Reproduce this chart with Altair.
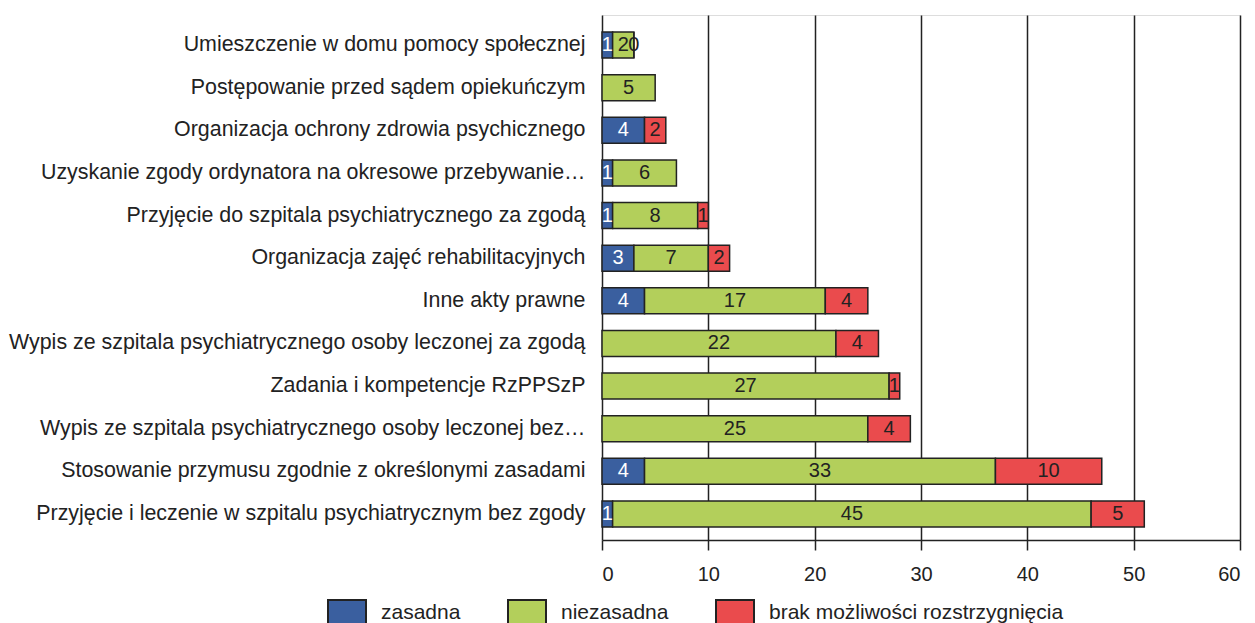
import altair as alt
import pandas as pd

categories = [
    "Umieszczenie w domu pomocy społecznej",
    "Postępowanie przed sądem opiekuńczym",
    "Organizacja ochrony zdrowia psychicznego",
    "Uzyskanie zgody ordynatora na okresowe przebywanie…",
    "Przyjęcie do szpitala psychiatrycznego za zgodą",
    "Organizacja zajęć rehabilitacyjnych",
    "Inne akty prawne",
    "Wypis ze szpitala psychiatrycznego osoby leczonej za zgodą",
    "Zadania i kompetencje RzPPSzP",
    "Wypis ze szpitala psychiatrycznego osoby leczonej bez…",
    "Stosowanie przymusu zgodnie z określonymi zasadami",
    "Przyjęcie i leczenie w szpitalu psychiatrycznym bez zgody",
]
zasadna = [1, None, 4, 1, 1, 3, 4, None, None, None, 4, 1]
niezasadna = [2, 5, None, 6, 8, 7, 17, 22, 27, 25, 33, 45]
brak = [0, None, 2, None, 1, 2, 4, 4, 1, 4, 10, 5]
series = ["zasadna", "niezasadna", "brak możliwości rozstrzygnięcia"]
colors = ["#3a5f9f", "#b3cf5b", "#ea4b4d"]
x_ticks = [0, 10, 20, 30, 40, 50, 60]

rows = []
for i, c in enumerate(categories):
    for k, (s, vals) in enumerate(zip(series, [zasadna, niezasadna, brak])):
        v = vals[i]
        if v is not None:
            rows.append({"kategoria": c, "seria": s, "kolejnosc": k, "wartosc": v})
df = pd.DataFrame(rows)

FONT = "Liberation Sans"
DARK = "#222222"
FS = 21.4

base = alt.Chart(df).transform_stack(
    stack="wartosc",
    groupby=["kategoria"],
    as_=["x0", "x1"],
    sort=[alt.SortField("kolejnosc", order="ascending")],
).transform_calculate(mid="(datum.x0 + datum.x1) / 2")

yenc = alt.Y(
    "kategoria:N",
    sort=categories,
    scale=alt.Scale(paddingInner=0.39, paddingOuter=0.352, align=0.567),
    axis=alt.Axis(
        title=None, domain=False, ticks=False, labelPadding=17,
        labelFontSize=FS, labelColor=DARK, labelFont=FONT, labelLimit=0,
    ),
)

bars = base.mark_bar(stroke=DARK, strokeWidth=1.5).encode(
    x=alt.X(
        "x0:Q",
        scale=alt.Scale(domain=[0, 60], nice=False),
        axis=alt.Axis(
            title=None, values=x_ticks, grid=True, gridColor=DARK, gridWidth=1.5,
            gridOpacity=1, tickColor=DARK, tickSize=10, tickWidth=1.5,
            domainColor=DARK, domainWidth=1.5, labelFontSize=20,
            labelColor=DARK, labelFont=FONT, labelPadding=14, format="d",
        ),
    ),
    x2="x1:Q",
    y=yenc,
    color=alt.Color(
        "seria:N",
        sort=series,
        scale=alt.Scale(domain=series, range=colors),
        legend=alt.Legend(
            title=None, orient="none", direction="horizontal",
            legendX=-275, legendY=584, symbolType="square", symbolSize=1444,
            symbolStrokeColor=DARK, symbolStrokeWidth=2, symbolOpacity=1,
            labelFontSize=21, labelFont=FONT, labelColor=DARK, labelLimit=0,
            labelBaseline="alphabetic", labelOffset=14, columnPadding=43,
            symbolOffset=0,
        ),
    ),
)

labels = base.mark_text(fontSize=20, font=FONT).encode(
    x=alt.X("mid:Q"),
    y=alt.Y("kategoria:N", sort=categories),
    text=alt.Text("wartosc:Q"),
    color=alt.condition(alt.datum.seria == "zasadna", alt.value("white"), alt.value(DARK)),
)

chart = alt.layer(bars, labels).properties(
    width=638, height=525, padding={"left": 0, "top": 7, "right": 5, "bottom": 5}
).configure_view(stroke=None).configure(background="white")

chart.save("out.html", embed_options={"renderer": "svg", "actions": False})
